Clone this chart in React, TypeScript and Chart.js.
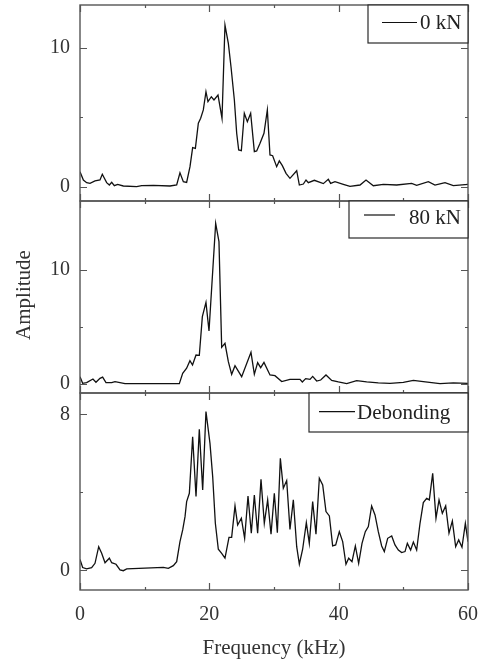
import React, { useEffect, useRef } from "react";
import { Chart, registerables } from "chart.js";

Chart.register(...registerables);

const FONT = '"Liberation Serif", "Times New Roman", serif';
const TEXT = "#333333";
const AXIS = "#555555";

// 0 kN
const freq0kN = [0,0.52,1.03,1.55,2.32,3.09,3.45,4.12,4.54,4.9,5.31,5.82,6.7,8.76,9.54,11.34,13.92,14.95,15.46,15.98,16.49,17.01,17.42,17.84,18.3,18.66,19.07,19.48,19.79,20.31,20.72,21.34,21.96,22.42,22.94,23.35,23.87,24.23,24.54,24.95,25.41,25.88,26.39,26.96,27.32,27.84,28.45,28.97,29.38,29.79,30.41,30.82,31.29,31.86,32.47,33.51,33.92,34.54,34.95,35.31,36.24,37.63,38.4,38.76,39.43,40.72,41.75,43.3,44.23,45.36,46.91,48.97,51.29,52.06,53.87,54.9,56.44,57.73,60];
const amp0kN = [1.08,0.48,0.29,0.24,0.41,0.48,0.89,0.29,0.12,0.31,0.07,0.17,0.05,0,0.07,0.1,0.05,0.12,1.0,0.36,0.31,1.44,2.81,2.76,4.56,4.92,5.52,6.83,6.12,6.47,6.24,6.59,4.92,11.63,10.31,8.63,6.24,3.84,2.64,2.59,5.28,4.68,5.28,2.52,2.57,3.12,3.84,5.52,2.28,2.23,1.44,1.85,1.51,0.96,0.6,1.15,0.12,0.19,0.48,0.29,0.46,0.22,0.53,0.24,0.36,0.17,0.02,0.12,0.48,0.07,0.17,0.12,0.24,0.1,0.36,0.12,0.29,0.07,0.17];

// 80 kN
const freq80kN = [0,0.41,1.03,2.0,2.47,3.09,3.5,4.02,4.9,5.41,6.96,11.3,15.36,15.88,16.49,17.0,17.4,17.94,18.45,18.92,19.48,19.95,20.98,21.49,21.91,22.42,22.94,23.45,23.97,25.0,26.44,26.96,27.47,27.94,28.45,29.38,30.15,31.19,32.47,34.02,34.38,34.9,35.57,35.98,36.6,37.22,38.04,38.92,39.95,41.24,42.78,44.33,46.13,47.94,50.0,51.55,53.09,55.67,57.73,60];
const amp80kN = [0.61,0.03,0.09,0.41,0.12,0.47,0.58,0.09,0.09,0.18,0,0,0,0.91,1.35,2.02,1.64,2.51,2.49,5.88,7.13,4.62,14.06,12.46,3.19,3.54,1.93,0.82,1.58,0.61,2.75,0.82,1.84,1.4,1.87,0.76,0.7,0.18,0.38,0.38,0.15,0.44,0.38,0.64,0.23,0.32,0.76,0.29,0.15,0,0.26,0.15,0.06,0.03,0.12,0.29,0.18,0,0.06,0.03];

// Debonding
const freqDeb = [0,0.41,1.03,1.8,2.32,2.89,3.35,3.87,4.54,4.9,5.57,6.19,6.7,7.22,12.89,13.66,14.43,14.95,15.46,15.88,16.24,16.49,16.91,17.42,17.94,18.45,18.97,19.48,20.1,20.52,20.93,21.39,21.91,22.42,23.04,23.45,23.97,24.38,24.95,25.46,25.98,26.49,26.96,27.47,27.99,28.5,29.02,29.54,30.05,30.52,30.98,31.44,31.96,32.47,32.99,33.51,33.92,34.43,35.0,35.46,35.98,36.49,37.01,37.53,38.04,38.56,39.07,39.54,40.1,40.62,41.13,41.55,42.06,42.58,43.09,43.61,44.12,44.59,45.1,45.62,46.13,46.65,47.06,47.58,48.2,48.71,49.23,49.74,50.26,50.62,51.13,51.55,52.06,52.58,53.09,53.61,54.02,54.54,55.05,55.52,56.03,56.55,57.06,57.58,58.09,58.56,59.07,59.59,60];
const ampDeb = [0.56,0.14,0.07,0.14,0.36,1.21,0.87,0.39,0.62,0.39,0.31,0.02,-0.02,0.07,0.15,0.1,0.24,0.44,1.47,2.07,2.75,3.52,3.95,6.85,3.78,7.23,4.12,8.14,6.51,4.8,2.41,1.08,0.87,0.62,1.69,1.69,3.3,2.32,2.67,1.64,3.81,1.9,3.86,1.9,4.67,2.41,3.61,1.85,3.95,1.93,5.74,4.21,4.6,2.1,3.61,1.21,0.31,1.08,2.44,1.38,3.52,1.85,4.72,4.38,3.01,2.79,1.25,1.3,1.98,1.47,0.31,0.62,0.44,1.25,0.36,1.38,1.98,2.24,3.3,2.84,1.98,1.25,0.96,1.64,1.76,1.3,1.04,0.91,0.96,1.38,1.04,1.45,1.04,2.41,3.47,3.69,3.61,4.97,2.67,3.61,2.92,3.3,1.9,2.53,1.21,1.56,1.18,2.41,1.47];

const seriesLabels = ["0 kN", "80 kN", "Debonding"];
const xTicks = [0, 10, 20, 30, 40, 50, 60];
const xLabelStep = 20;
const yTicksTop = [0, 5, 10];
const yTicksMid = [0, 5, 10];
const yTicksBot = [0, 4, 8];
const yMajorTop = 10;
const yMajorMid = 10;
const yMajorBot = 8;
const xTitle = "Frequency (kHz)";
const yTitle = "Amplitude";

const panelIds = ["yTop", "yMid", "yBot"];
const majorSteps: Record<string, number> = { yTop: yMajorTop, yMid: yMajorMid, yBot: yMajorBot };

// legend layout per panel: box width, height, line start/end offsets, line y, text x, baseline
const legendSpec = [
  { w: 100, h: 38, l0: 14, l1: 49, ly: 17.5, tx: 52, ty: 23.5 },
  { w: 119, h: 37, l0: 15, l1: 46, ly: 14, tx: 60, ty: 23 },
  { w: 159, h: 39, l0: 10, l1: 46, ly: 18.7, tx: 48, ty: 26.3 },
];

const framePlugin = {
  id: "frames",
  afterDatasetsDraw(chart: any) {
    const ctx = chart.ctx as CanvasRenderingContext2D;
    const area = chart.chartArea;
    const xs = chart.scales.x;
    ctx.save();
    panelIds.forEach((id, idx) => {
      const s = chart.scales[id];
      const top = s.top;
      const bottom = s.bottom;
      const left = area.left;
      const right = area.right;
      ctx.strokeStyle = AXIS;
      ctx.lineWidth = 1.4;
      ctx.strokeRect(left, top, right - left, bottom - top);
      ctx.lineWidth = 1.2;
      ctx.beginPath();
      xTicks.forEach((v) => {
        const px = Math.round(xs.getPixelForValue(v)) + 0.5;
        const len = v % xLabelStep === 0 ? 7 : 3;
        ctx.moveTo(px, top);
        ctx.lineTo(px, top + len);
        ctx.moveTo(px, bottom);
        ctx.lineTo(px, bottom - len);
      });
      s.ticks.forEach((t: any) => {
        const py = Math.round(s.getPixelForValue(t.value)) + 0.5;
        const len = t.value % majorSteps[id] === 0 ? 7 : 3;
        ctx.moveTo(left, py);
        ctx.lineTo(left + len, py);
        ctx.moveTo(right, py);
        ctx.lineTo(right - len, py);
      });
      ctx.stroke();
      const L = legendSpec[idx];
      const bx = right - L.w;
      ctx.fillStyle = "#ffffff";
      ctx.fillRect(bx, top, L.w, L.h);
      ctx.strokeStyle = "#2a2a2a";
      ctx.lineWidth = 1.2;
      ctx.strokeRect(bx, top, L.w, L.h);
      ctx.strokeStyle = "#111111";
      ctx.lineWidth = 1.2;
      ctx.beginPath();
      ctx.moveTo(bx + L.l0, top + L.ly);
      ctx.lineTo(bx + L.l1, top + L.ly);
      ctx.stroke();
      ctx.fillStyle = "#222222";
      ctx.font = `21px ${FONT}`;
      ctx.textAlign = "left";
      ctx.textBaseline = "alphabetic";
      ctx.fillText(seriesLabels[idx], bx + L.tx, top + L.ty);
    });
    ctx.fillStyle = TEXT;
    ctx.font = `21px ${FONT}`;
    ctx.textAlign = "center";
    ctx.textBaseline = "alphabetic";
    ctx.fillText(xTitle, (area.left + area.right) / 2, 654);
    ctx.save();
    ctx.translate(30, 295);
    ctx.rotate(-Math.PI / 2);
    ctx.fillText(yTitle, 0, 0);
    ctx.restore();
    ctx.restore();
  },
};

function yScale(min: number, max: number, ticks: number[], major: number, weight: number, stackWeight: number) {
  return {
    type: "linear",
    position: "left",
    stack: "panels",
    stackWeight,
    weight,
    min,
    max,
    afterBuildTicks: (s: any) => {
      s.ticks = ticks.map((v) => ({ value: v }));
    },
    afterFit: (s: any) => {
      s.width = 80;
      s.paddingTop = 0;
      s.paddingBottom = 0;
      s.paddingLeft = 0;
      s.paddingRight = 0;
    },
    grid: { display: false, drawTicks: false },
    border: { display: false },
    ticks: {
      padding: 10,
      color: TEXT,
      font: { family: FONT, size: 20 },
      callback: (v: any) => (Number(v) % major === 0 ? String(v) : ""),
    },
  };
}

export default function App() {
  const ref = useRef<HTMLCanvasElement>(null);
  useEffect(() => {
    document.body.style.margin = "0";
    const mk = (f: number[], a: number[]) => f.map((x, i) => ({ x, y: a[i] }));
    const line = { borderColor: "#111111", borderWidth: 1.3, pointRadius: 0, tension: 0, fill: false };
    const chart = new Chart(ref.current as HTMLCanvasElement, {
      type: "line",
      data: {
        datasets: [
          { ...line, label: seriesLabels[0], data: mk(freq0kN, amp0kN), yAxisID: "yTop", xAxisID: "x" },
          { ...line, label: seriesLabels[1], data: mk(freq80kN, amp80kN), yAxisID: "yMid", xAxisID: "x" },
          { ...line, label: seriesLabels[2], data: mk(freqDeb, ampDeb), yAxisID: "yBot", xAxisID: "x" },
        ],
      },
      options: {
        responsive: false,
        animation: false,
        layout: { padding: { left: 0, right: 12, top: 5, bottom: 0 } },
        plugins: { legend: { display: false }, tooltip: { enabled: false } },
        scales: {
          x: {
            type: "linear",
            position: "bottom",
            min: 0,
            max: 60,
            afterBuildTicks: (s: any) => {
              s.ticks = xTicks.map((v) => ({ value: v }));
            },
            afterFit: (s: any) => {
              s.height = 73;
              s.paddingLeft = 0;
              s.paddingRight = 0;
              s.paddingTop = 0;
              s.paddingBottom = 0;
            },
            grid: { display: false, drawTicks: false },
            border: { display: false },
            ticks: {
              padding: 13,
              maxRotation: 0,
              autoSkip: false,
              color: TEXT,
              font: { family: FONT, size: 20 },
              callback: (v: any) => (Number(v) % xLabelStep === 0 ? String(v) : ""),
            },
          },
          yBot: yScale(-1.01, 9.09, yTicksBot, yMajorBot, 1, 197),
          yMid: yScale(-0.82, 16.03, yTicksMid, yMajorMid, 2, 192),
          yTop: yScale(-1.03, 13.07, yTicksTop, yMajorTop, 3, 196),
        } as any,
      },
      plugins: [framePlugin],
    } as any);
    return () => chart.destroy();
  }, []);
  return (
    <div style={{ width: 480, height: 663, position: "relative" }}>
      <canvas ref={ref} width={480} height={663} style={{ display: "block" }} />
    </div>
  );
}
